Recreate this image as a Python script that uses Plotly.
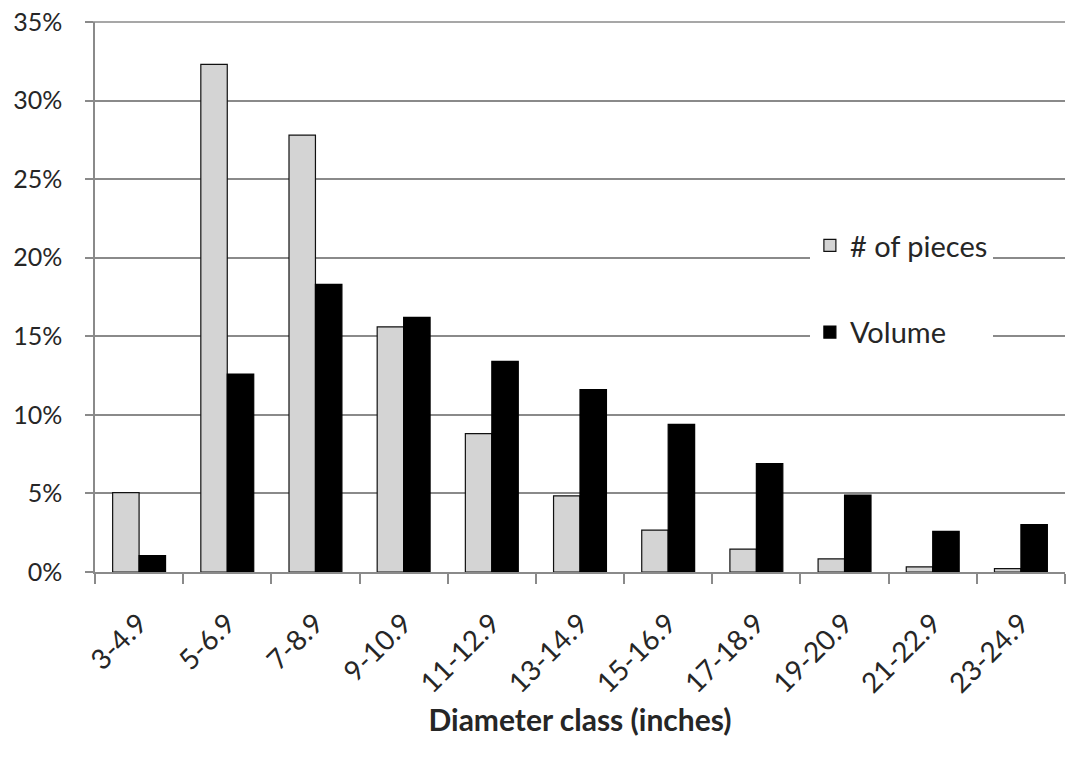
"""Diameter class distribution: pieces vs volume."""

import plotly.graph_objects as go

classes = ["3-4.9", "5-6.9", "7-8.9", "9-10.9", "11-12.9", "13-14.9",
           "15-16.9", "17-18.9", "19-20.9", "21-22.9", "23-24.9"]
pieces = [5.05, 32.3, 27.8, 15.6, 8.8, 4.85, 2.67, 1.46, 0.83, 0.32, 0.21]
volume = [1.04, 12.6, 18.3, 16.2, 13.4, 11.6, 9.4, 6.9, 4.9, 2.59, 3.01]
y_max = 0.35

FONT = "Lato"
TEXT = "#262626"
GRID = "#8a8a8a"

fig = go.Figure()
fig.add_trace(go.Bar(
    x=classes, y=[v / 100 for v in pieces], name="# of pieces",
    legendgroup="a",
    marker=dict(color="#d4d4d4", line=dict(color="#111111", width=1.2)),
))
fig.add_trace(go.Bar(
    x=classes, y=[v / 100 for v in volume], name="Volume",
    legendgroup="b",
    marker=dict(color="#000000", line=dict(color="#000000", width=1.2)),
))

# plotly drops the grid line at the top edge, draw it by hand (top of the plot area)
fig.add_shape(type="line", xref="paper", yref="paper", x0=-0.008, x1=1, y0=1, y1=1,
              line=dict(color=GRID, width=1.5), layer="below")

fig.update_layout(
    width=1073, height=757,
    margin=dict(l=95, r=8, t=22, b=185, autoexpand=False),
    paper_bgcolor="white", plot_bgcolor="white",
    font=dict(family=FONT, color=TEXT, size=28),
    barmode="group", bargap=0.4, bargroupgap=0,
    showlegend=True,
    legend=dict(
        x=0.737, y=0.64, xanchor="left", yanchor="top",
        bgcolor="white", borderwidth=0,
        font=dict(family=FONT, size=29, color=TEXT),
        tracegroupgap=46, traceorder="grouped",
    ),
)

fig.update_xaxes(
    type="category",
    showline=True, linecolor=GRID, linewidth=1.5,
    ticks="outside", tickson="boundaries", ticklen=10, tickcolor=GRID, tickwidth=1.5,
    tickangle=-45, tickfont=dict(size=28, color=TEXT),
    ticklabelstandoff=22,
    showgrid=False,
    title=dict(text="<b>Diameter class (inches)</b>", font=dict(size=30, color=TEXT), standoff=12),
    automargin=False,
)
fig.update_yaxes(
    range=[0, y_max], dtick=0.05, tickformat=".0%",
    showline=True, linecolor=GRID, linewidth=1.5,
    ticks="outside", ticklen=8, tickcolor=GRID, tickwidth=1.5,
    showgrid=True, gridcolor=GRID, gridwidth=1.5,
    zeroline=False,
    tickfont=dict(size=25, color=TEXT),
    ticklabelstandoff=18, ticklabeloverflow="allow",
    automargin=False,
)

# drop the default 8px body margin so the figure fills the window exactly
fig.write_html(
    "out.html",
    config={"displayModeBar": False},
    post_script="document.body.style.margin = '0';",
)
